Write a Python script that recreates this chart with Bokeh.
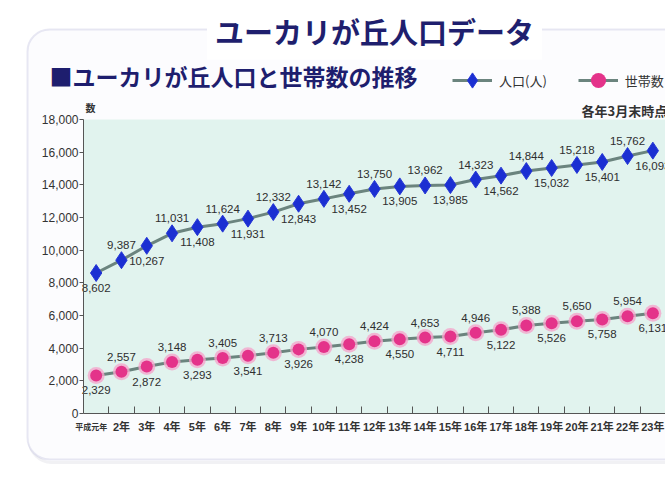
from bokeh.plotting import figure
from bokeh.models import (Range1d, FixedTicker, NumeralTickFormatter, Label, BoxAnnotation,
                          Legend, LegendItem, ColumnDataSource, AllLabels)
from bokeh.core.properties import value
from bokeh.embed import file_html
from bokeh.resources import INLINE

# ---- data ----
years = ["平成元年", "2年", "3年", "4年", "5年", "6年", "7年", "8年", "9年", "10年", "11年", "12年",
         "13年", "14年", "15年", "16年", "17年", "18年", "19年", "20年", "21年", "22年", "23年"]
population = [8602, 9387, 10267, 11031, 11408, 11624, 11931, 12332, 12843, 13142, 13452, 13750,
              13905, 13962, 13985, 14323, 14562, 14844, 15032, 15218, 15401, 15762, 16093]
households = [2329, 2557, 2872, 3148, 3293, 3405, 3541, 3713, 3926, 4070, 4238, 4424,
              4550, 4653, 4711, 4946, 5122, 5388, 5526, 5650, 5758, 5954, 6131]
y_ticks = [0, 2000, 4000, 6000, 8000, 10000, 12000, 14000, 16000, 18000]

title_text = "ユーカリが丘人口データ"
subtitle_text = "■ユーカリが丘人口と世帯数の推移"
pop_name = "人口(人)"
hh_name = "世帯数"
note_text = "各年3月末時点"
unit_text = "数"

CJK = "Noto Sans CJK JP"
NARROW = "Liberation Sans, Noto Sans CJK JP"

# ---- layout (canvas pixels) ----
W, H = 665, 477
PL, PR, PT, PB = 83, 665, 119, 413   # chart area inside the canvas

n = len(years)
idx = list(range(1, n + 1))
x0, x1 = 0.5, n + 0.5
y0, y1 = y_ticks[0], y_ticks[-1]
xpp = (x1 - x0) / (PR - PL)
ypp = (y1 - y0) / (PB - PT)
x_range = Range1d(x0 - PL * xpp, x1 + (W - PR) * xpp)
y_range = Range1d(y0 - (H - PB) * ypp, y1 + PT * ypp)

src = ColumnDataSource(dict(
    x=idx,
    pop=population,
    hh=households,
    pop_lbl=[f"{v:,}" for v in population],
    hh_lbl=[f"{v:,}" for v in households],
    off=[15 if i % 2 == 1 else -15 for i in idx],
))

p = figure(width=W, height=H, output_backend="svg", toolbar_location=None,
           x_range=x_range, y_range=y_range,
           min_border_left=0, min_border_right=0, min_border_top=0, min_border_bottom=0)
p.background_fill_color = "white"
p.border_fill_color = "white"
p.outline_line_color = None
p.grid.visible = False

# rounded panel frame (with soft shadow)
p.add_layout(BoxAnnotation(left=29, right=720, top=H - 31, bottom=H - 462,
                           left_units="screen", right_units="screen",
                           top_units="screen", bottom_units="screen",
                           fill_alpha=0, line_color="#cfcfda", line_width=3,
                           border_radius=22, level="underlay"))
p.add_layout(BoxAnnotation(left=27, right=720, top=H - 29, bottom=H - 459,
                           left_units="screen", right_units="screen",
                           top_units="screen", bottom_units="screen",
                           fill_color="#fcfcfe", fill_alpha=1, line_color="#b3b3d8", line_width=2,
                           border_radius=22, level="underlay"))
# chart area background
p.add_layout(BoxAnnotation(left=x0, right=x1, bottom=y0, top=y1,
                           fill_color="#e1f3ee", fill_alpha=1, line_color=None, level="underlay"))

# series
pop_line = p.line("x", "pop", source=src, line_color="#6b847e", line_width=3)
pop_pts = p.scatter("x", "pop", source=src, marker="diamond", size=17,
                    fill_color="#1b2fd2", line_color="#2536d6")
hh_line = p.line("x", "hh", source=src, line_color="#6b847e", line_width=3)
hh_halo = p.scatter("x", "hh", source=src, marker="circle", size=17,
                    fill_color="#f4a6cc", line_color=None, fill_alpha=0.8)
hh_pts = p.scatter("x", "hh", source=src, marker="circle", size=12,
                   fill_color="#e4338a", line_color=None)

p.text("x", "pop", text="pop_lbl", source=src, y_offset="off", text_align="center",
       text_baseline="middle", text_font=value(NARROW), text_font_size="11.5px", text_color="#2e2e2e")
p.text("x", "hh", text="hh_lbl", source=src, y_offset="off", text_align="center",
       text_baseline="middle", text_font=value(NARROW), text_font_size="11.5px", text_color="#2e2e2e")

# axes (fixed inside the canvas)
xa = p.xaxis[0]
xa.fixed_location = y0
xa.bounds = (x0, x1)
xa.ticker = FixedTicker(ticks=idx[1:], minor_ticks=[i + 0.5 for i in idx])
xa.major_label_overrides = {i: years[i - 1] for i in idx[1:]}
xa.major_label_policy = AllLabels()
xa.major_tick_in = 0
xa.major_tick_out = 0
xa.minor_tick_in = 7
xa.minor_tick_out = 0
xa.minor_tick_line_color = "#555555"
xa.axis_line_color = "#555555"
xa.major_label_standoff = 7
xa.major_label_text_font = NARROW
xa.major_label_text_font_size = "11px"
xa.major_label_text_font_style = "bold"
xa.major_label_text_color = "#333333"

ya = p.yaxis[0]
ya.fixed_location = x0
ya.bounds = (y0, y1)
ya.ticker = FixedTicker(ticks=y_ticks)
ya.formatter = NumeralTickFormatter(format="0,0")
ya.major_tick_out = 4
ya.major_tick_in = 0
ya.minor_tick_out = 0
ya.minor_tick_in = 0
ya.axis_line_color = "#555555"
ya.major_tick_line_color = "#555555"
ya.major_label_text_font = "Liberation Sans"
ya.major_label_text_font_size = "12px"
ya.major_label_text_color = "#333333"
ya.major_label_standoff = 1

# first x label (squeezed, as in the original)
p.add_layout(Label(x=idx[0], y=H - PB - 7, x_units="data", y_units="screen", text=years[0],
                   x_offset=-5, text_align="center", text_baseline="top",
                   text_font=CJK, text_font_size="8px", text_font_style="bold",
                   text_color="#333333"))

# header texts
p.add_layout(Label(x=374, y=H - 30, x_units="screen", y_units="screen", text=title_text,
                   text_align="center", text_baseline="middle", text_font=CJK,
                   text_font_size="29px", text_font_style="bold", text_color="#1f1f6e",
                   background_fill_color="white", padding=8))
p.add_layout(Label(x=49, y=H - 75, x_units="screen", y_units="screen", text=subtitle_text,
                   text_align="left", text_baseline="middle", text_font=CJK,
                   text_font_size="23px", text_font_style="bold", text_color="#1e1e6e"))
p.add_layout(Label(x=90, y=H - 107, x_units="screen", y_units="screen", text=unit_text,
                   text_align="center", text_baseline="middle", text_font=CJK,
                   text_font_size="10px", text_font_style="bold", text_color="#333333"))
p.add_layout(Label(x=581, y=H - 110, x_units="screen", y_units="screen", text=note_text,
                   text_align="left", text_baseline="middle", text_font=CJK,
                   text_font_size="13px", text_font_style="bold", text_color="#333333"))

legend = Legend(items=[LegendItem(label=pop_name, renderers=[pop_line, pop_pts]),
                       LegendItem(label=hh_name, renderers=[hh_line, hh_pts])],
                location=(452, H - 99), orientation="horizontal",
                glyph_width=40, glyph_height=38, label_standoff=7, spacing=31,
                padding=0, margin=0, border_line_color=None, background_fill_alpha=0,
                label_text_font=CJK, label_text_font_size="13px", label_text_color="#333333")
p.add_layout(legend, "center")

open("out.html", "w").write(file_html(p, INLINE))
